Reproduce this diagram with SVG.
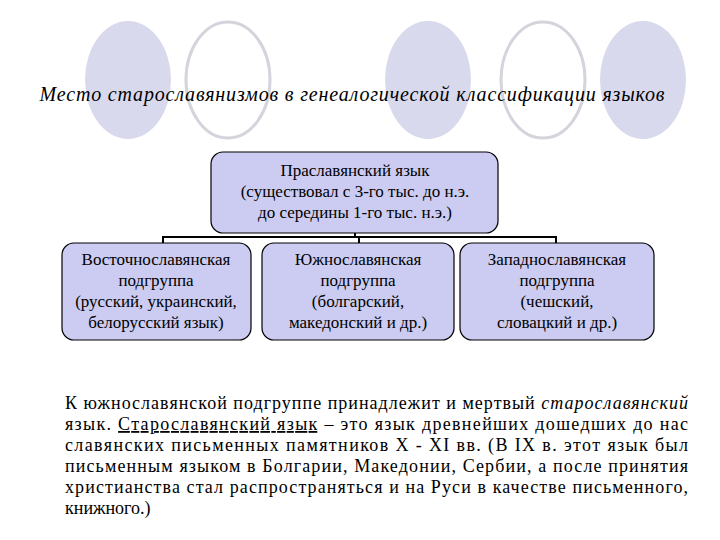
<svg xmlns="http://www.w3.org/2000/svg" width="720" height="540" viewBox="0 0 720 540">
<style>
.f{fill:#d9d9ee}
.o{fill:none;stroke:#d4d4dc;stroke-width:3}
.b{fill:#ccccf2;stroke:#000;stroke-width:1.2}
.t{font-family:"Liberation Serif","Times New Roman",serif;font-size:17px;text-anchor:middle;fill:#000}
.p{font-family:"Liberation Serif","Times New Roman",serif;font-size:18px;fill:#000}
</style>
<rect width="720" height="540" fill="#fff"/>
<ellipse class="f" cx="128" cy="80" rx="43" ry="59"/>
<ellipse class="o" cx="228" cy="80" rx="42" ry="58"/>
<ellipse class="f" cx="428" cy="80" rx="43" ry="59"/>
<ellipse class="o" cx="543" cy="80" rx="42" ry="58"/>
<ellipse class="f" cx="643" cy="80" rx="43" ry="59"/>
<text x="352" y="101" font-family="'Liberation Serif',serif" font-style="italic" font-size="20" text-anchor="middle" textLength="625">Место старославянизмов в генеалогической классификации языков</text>
<g id="connectors" stroke="#000" stroke-width="2" fill="none">
<path d="M355 232V237M163 243V237H556V243M359 237V243"/>
</g>
<g id="root"><rect class="b" x="211" y="152" width="287" height="81" rx="12"/>
<text class="t" x="355" y="176">Праславянский язык</text>
<text class="t" x="355" y="197">(существовал с 3-го тыс. до н.э.</text>
<text class="t" x="355" y="218">до середины 1-го тыс. н.э.)</text></g>
<g id="east"><rect class="b" x="62" y="243" width="189" height="97" rx="12"/>
<text class="t" x="156" y="265">Восточнославянская</text>
<text class="t" x="156" y="286">подгруппа</text>
<text class="t" x="156" y="307">(русский, украинский,</text>
<text class="t" x="156" y="328">белорусский язык)</text></g>
<g id="south"><rect class="b" x="262" y="243" width="192" height="97" rx="12"/>
<text class="t" x="358" y="265">Южнославянская</text>
<text class="t" x="358" y="286">подгруппа</text>
<text class="t" x="358" y="307">(болгарский,</text>
<text class="t" x="358" y="328">македонский и др.)</text></g>
<g id="west"><rect class="b" x="460" y="243" width="194" height="97" rx="12"/>
<text class="t" x="557" y="265">Западнославянская</text>
<text class="t" x="557" y="286">подгруппа</text>
<text class="t" x="557" y="307">(чешский,</text>
<text class="t" x="557" y="328">словацкий и др.)</text></g>
<text class="p" x="65" y="409" textLength="623">К южнославянской подгруппе принадлежит и мертвый <tspan font-style="italic">старославянский</tspan></text>
<text class="p" x="65" y="430" textLength="623">язык. <tspan text-decoration="underline">Старославянский язык</tspan> – это язык древнейших дошедших до нас</text>
<text class="p" x="65" y="451" textLength="623">славянских письменных памятников X - XI вв. (В IX в. этот язык был</text>
<text class="p" x="65" y="472" textLength="623">письменным языком в Болгарии, Македонии, Сербии, а после принятия</text>
<text class="p" x="65" y="493" textLength="623">христианства стал распространяться и на Руси в качестве письменного,</text>
<text class="p" x="65" y="514">книжного.)</text>
</svg>
